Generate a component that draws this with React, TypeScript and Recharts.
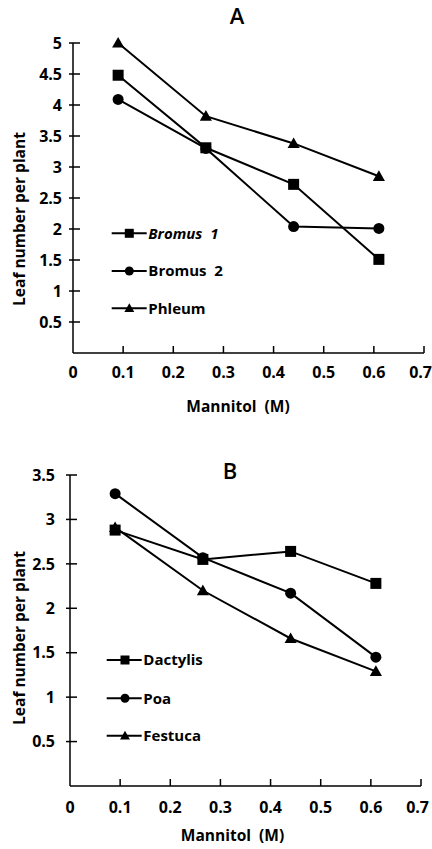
import React from 'react';
import { LineChart, Line, XAxis, YAxis, Legend } from 'recharts';

// ---- Data ----
const mannitol = [0.09, 0.265, 0.44, 0.61];
const bromus1 = [4.48, 3.31, 2.72, 1.51];
const bromus2 = [4.09, 3.3, 2.04, 2.01];
const phleum = [5.0, 3.82, 3.38, 2.85];
const dactylis = [2.88, 2.55, 2.64, 2.28];
const poa = [3.29, 2.57, 2.17, 1.45];
const festuca = [2.91, 2.2, 1.66, 1.29];

const xTicks = [0, 0.1, 0.2, 0.3, 0.4, 0.5, 0.6, 0.7];
const xTickLabels = ['0', '0.1', '0.2', '0.3', '0.4', '0.5', '0.6', '0.7'];
const yTicksA = [0.5, 1, 1.5, 2, 2.5, 3, 3.5, 4, 4.5, 5];
const yTicksB = [0.5, 1, 1.5, 2, 2.5, 3, 3.5];

const seriesA = [
  { key: 'bromus1', name: 'Bromus  1', shape: 'square', italic: true, values: bromus1 },
  { key: 'bromus2', name: 'Bromus  2', shape: 'circle', italic: false, values: bromus2 },
  { key: 'phleum', name: 'Phleum', shape: 'triangle', italic: false, values: phleum },
];
const seriesB = [
  { key: 'dactylis', name: 'Dactylis', shape: 'square', italic: false, values: dactylis },
  { key: 'poa', name: 'Poa', shape: 'circle', italic: false, values: poa },
  { key: 'festuca', name: 'Festuca', shape: 'triangle', italic: false, values: festuca },
];

const buildTable = (series: any[]) =>
  mannitol.map((x, i) => {
    const row: any = { x };
    series.forEach((s) => (row[s.key] = s.values[i]));
    return row;
  });

const dataA = buildTable(seriesA);
const dataB = buildTable(seriesB);

const FONT = "'Open Sans', 'DejaVu Sans', sans-serif";
const WEIGHT = 700;

const Marker = ({ shape, cx, cy, s }: any) => {
  if (cx == null || cy == null) return null;
  if (shape === 'square')
    return <rect x={cx - s / 2} y={cy - s / 2} width={s} height={s} fill="#000" />;
  if (shape === 'circle') return <circle cx={cx} cy={cy} r={s / 2} fill="#000" />;
  const h = s * 0.55;
  return (
    <polygon
      points={`${cx},${cy - h} ${cx - h},${cy + s * 0.42} ${cx + h},${cy + s * 0.42}`}
      fill="#000"
    />
  );
};

const makeXTick = (off: number) => (props: any) => {
  const { x, y, payload, index } = props;
  const v = payload.value;
  const idx = xTicks.indexOf(v);
  const last = idx === xTicks.length - 1;
  return (
    <g key={`xt-${index}`}>
      {v !== 0 && <line x1={x} y1={y} x2={x} y2={y - 7} stroke="#000" strokeWidth={1.5} />}
      <text
        x={last ? x + 8 : x}
        y={y + off}
        textAnchor={last ? 'end' : 'middle'}
        fontFamily={FONT}
        fontWeight={WEIGHT}
        fontSize={16}
        fill="#000"
      >
        {idx >= 0 ? xTickLabels[idx] : String(v)}
      </text>
    </g>
  );
};

const makeYTick = (gap: number) => (props: any) => {
  const { x, y, payload, index } = props;
  return (
    <g key={`yt-${index}`}>
      <line x1={x - 4} y1={y} x2={x + 7} y2={y} stroke="#000" strokeWidth={1.5} />
      <text
        x={x - gap}
        y={y}
        dy="0.36em"
        textAnchor="end"
        fontFamily={FONT}
        fontWeight={WEIGHT}
        fontSize={16}
        fill="#000"
      >
        {String(payload.value)}
      </text>
    </g>
  );
};

const makeLabels = (title: string, tx: number, ty: number, xl: number, xly: number, yly: number) => () => (
  <g>
    <text x={tx} y={ty} textAnchor="middle" fontFamily={FONT} fontWeight={600} fontSize={22} fill="#000">
      {title}
    </text>
    <text x={xl} y={xly} textAnchor="middle" fontFamily={FONT} fontWeight={WEIGHT} fontSize={15.5} fill="#000" style={{ whiteSpace: 'pre' }}>
      {'Mannitol  (M)'}
    </text>
    <text
      x={19}
      y={yly}
      textAnchor="middle"
      dominantBaseline="central"
      transform={`rotate(-90 19 ${yly})`}
      fontFamily={FONT}
      fontWeight={WEIGHT}
      fontSize={15.5}
      fill="#000"
    >
      Leaf number per plant
    </text>
  </g>
);

const makeLegend = (series: any[], w: number, h: number, rows: number[], x1: number, x2: number, mx: number, tx: number) => () => (
  <svg width={w} height={h} style={{ position: 'absolute', left: 0, top: 0, pointerEvents: 'none' }}>
    {series.map((s, i) => (
      <g key={s.key}>
        <line x1={x1} y1={rows[i]} x2={x2} y2={rows[i]} stroke="#000" strokeWidth={2} />
        <Marker shape={s.shape} cx={mx} cy={rows[i]} s={9} />
        <text
          x={tx}
          y={rows[i]}
          dy="0.36em"
          fontFamily={FONT}
          fontWeight={WEIGHT}
          fontSize={15}
          fontStyle={s.italic ? 'italic' : 'normal'}
          fill="#000"
          style={{ whiteSpace: 'pre' }}
        >
          {s.name}
        </text>
      </g>
    ))}
  </svg>
);

const Panel = ({ data, series, height, margin, yWidth, yTicks, yMax, xOff, yGap, labels, legend }: any) => (
  <LineChart width={432} height={height} data={data} margin={margin}>
    <XAxis
      dataKey="x"
      type="number"
      domain={[0, 0.7]}
      ticks={xTicks}
      interval={0}
      tickLine={false}
      tickSize={0}
      tickMargin={0}
      height={30}
      axisLine={{ stroke: '#000', strokeWidth: 1.5 }}
      tick={makeXTick(xOff)}
      label={labels}
    />
    <YAxis
      type="number"
      domain={[0, yMax]}
      ticks={yTicks}
      interval={0}
      width={yWidth}
      tickLine={false}
      tickSize={0}
      tickMargin={0}
      axisLine={{ stroke: '#000', strokeWidth: 1.5 }}
      tick={makeYTick(yGap)}
    />
    <Legend
      layout="vertical"
      align="center"
      verticalAlign="middle"
      wrapperStyle={{ left: 0, top: 0, width: 432, height: height, pointerEvents: 'none' }}
      content={legend}
    />
    {series.map((s: any) => (
      <Line
        key={s.key}
        dataKey={s.key}
        name={s.name}
        stroke="#000"
        strokeWidth={2}
        isAnimationActive={false}
        dot={(p: any) => <Marker key={`${s.key}-${p.index}`} shape={s.shape} cx={p.cx} cy={p.cy} s={11} />}
        activeDot={false}
      />
    ))}
  </LineChart>
);

export default function App() {
  return (
    <div style={{ position: 'absolute', left: 0, top: 0, width: 432, height: 849, background: '#fff' }}>
      <div style={{ position: 'absolute', left: 0, top: 0 }}>
        <Panel
          data={dataA}
          series={seriesA}
          height={420}
          margin={{ top: 43, right: 8, bottom: 37, left: 0 }}
          yWidth={73}
          yTicks={yTicksA}
          yMax={5}
          xOff={24.5}
          yGap={11}
          labels={makeLabels('A', 237, 23.5, 238, 411.5, 219)}
          legend={makeLegend(seriesA, 432, 420, [233.3, 271, 308.3], 111.7, 146.7, 129.3, 148.3)}
        />
      </div>
      <div style={{ position: 'absolute', left: 0, top: 420 }}>
        <Panel
          data={dataB}
          series={seriesB}
          height={429}
          margin={{ top: 55, right: 11, bottom: 33, left: 0 }}
          yWidth={70}
          yTicks={yTicksB}
          yMax={3.5}
          xOff={27}
          yGap={15}
          labels={makeLabels('B', 230, 59.3, 232.5, 421, 218)}
          legend={makeLegend(seriesB, 432, 429, [240, 278.3, 315.7], 106.7, 141.7, 125, 143.3)}
        />
      </div>
    </div>
  );
}
